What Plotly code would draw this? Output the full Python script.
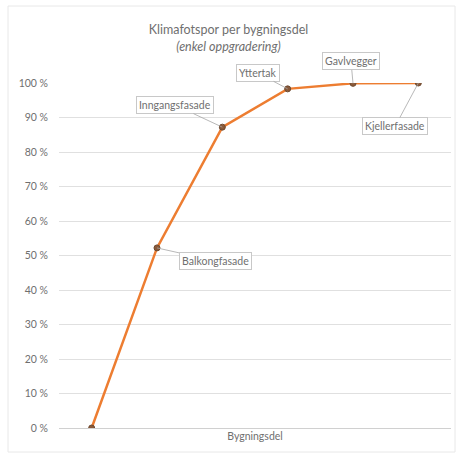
import plotly.graph_objects as go

categories = ["", "Balkongfasade", "Inngangsfasade", "Yttertak", "Gavlvegger", "Kjellerfasade"]
values = [0.0, 0.522, 0.872, 0.983, 0.999, 1.0]
label_offsets_x = [None, 58, -47, -30, -2, -23]
label_offsets_y = [None, 13, -22, -16, -22, 43]
tick_vals = [0, 0.1, 0.2, 0.3, 0.4, 0.5, 0.6, 0.7, 0.8, 0.9, 1.0]
tick_text = ["0 %", "10 %", "20 %", "30 %", "40 %", "50 %", "60 %", "70 %", "80 %", "90 %", "100 %"]

xs = list(range(len(categories)))
FONT = "Lato, Calibri, Carlito, sans-serif"
GREY = "#6f6f6f"

fig = go.Figure()
fig.add_trace(go.Scatter(
    x=xs, y=values, mode="lines+markers",
    line=dict(color="#ED7D31", width=2.5),
    marker=dict(size=6, color="#8a5a3a", line=dict(color="#6e4a30", width=1)),
    hoverinfo="skip", showlegend=False,
))

annotations = []
for i, name in enumerate(categories):
    if not name:
        continue
    annotations.append(dict(
        x=xs[i], y=values[i], xref="x", yref="y", text=name,
        showarrow=True, arrowhead=0, arrowwidth=0.8, arrowcolor="#a6a6a6",
        ax=label_offsets_x[i], ay=label_offsets_y[i],
        bordercolor="#c8c8c8", borderwidth=1, borderpad=2, bgcolor="white",
        font=dict(family=FONT, size=10.5, color=GREY),
    ))

fig.update_layout(
    width=457, height=457,
    margin=dict(l=59, r=6, t=83, b=29),
    paper_bgcolor="white", plot_bgcolor="white",
    font=dict(family=FONT, color=GREY),
    title=dict(
        text="Klimafotspor per bygningsdel<br><i>(enkel oppgradering)</i>",
        x=0.5, xref="container", xanchor="center", y=0.925, yanchor="top",
        font=dict(family=FONT, size=12.5, color=GREY),
    ),
    annotations=annotations,
    xaxis=dict(
        range=[-0.5, 5.5], showticklabels=False, showgrid=False, zeroline=False,
        showline=False, ticks="",
        title=dict(text="Bygningsdel", font=dict(family=FONT, size=10.5, color=GREY), standoff=4),
    ),
    yaxis=dict(
        range=[0, 1.0], tickvals=tick_vals, ticktext=tick_text,
        showgrid=True, gridcolor="#e0e0e0", gridwidth=1,
        zeroline=True, zerolinecolor="#d0d0d0", zerolinewidth=1,
        showline=False, ticks="", ticklabelstandoff=10,
        tickfont=dict(family=FONT, size=10.5, color=GREY),
    ),
    shapes=[dict(
        type="rect", xref="paper", yref="paper",
        x0=-51 / 392, x1=1.0 + 4 / 392, y0=-24 / 345, y1=1.0 + 77 / 345,
        line=dict(color="#e8e8e8", width=1), fillcolor="rgba(0,0,0,0)", layer="below",
    )],
)

fig.write_html("out.html")
